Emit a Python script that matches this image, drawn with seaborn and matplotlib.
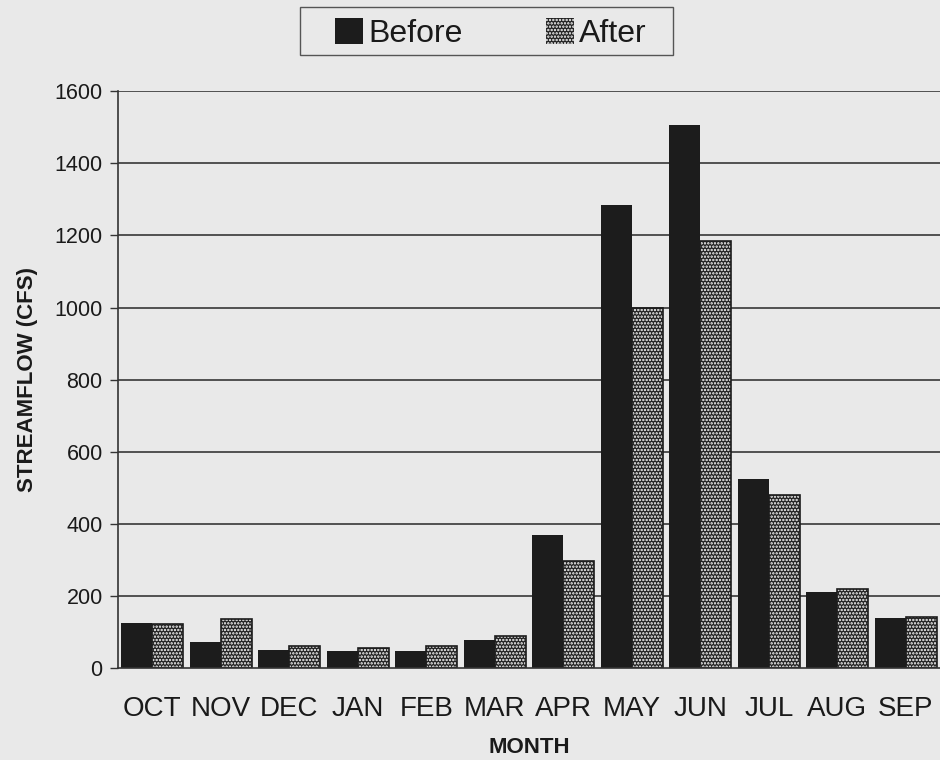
import matplotlib
matplotlib.use("Agg")
import matplotlib.pyplot as plt
import seaborn as sns
import pandas as pd
from matplotlib.patches import Patch, Rectangle

months = ["OCT", "NOV", "DEC", "JAN", "FEB", "MAR", "APR", "MAY", "JUN", "JUL", "AUG", "SEP"]
before = [126, 71, 50, 47, 48, 78, 370, 1283, 1505, 524, 212, 138]
after = [121, 135, 61, 56, 61, 88, 297, 1000, 1184, 479, 219, 142]
series = ["Before", "After"]
yticks = [0, 200, 400, 600, 800, 1000, 1200, 1400, 1600]

df = pd.DataFrame({
    "month": months * 2,
    "flow": before + after,
    "period": [series[0]] * len(months) + [series[1]] * len(months),
})

sns.set_theme(style="white")
plt.rcParams["font.family"] = ["Liberation Sans", "DejaVu Sans"]
plt.rcParams["hatch.color"] = "white"
plt.rcParams["hatch.linewidth"] = 1.15

BG = "#e9e9e9"
DARK = "#1c1c1c"
TXT = "#1a1a1a"

fig = plt.figure(figsize=(9.4, 7.6), dpi=100, facecolor=BG)
ax = fig.add_axes([0.1255, 0.121, 0.8745, 0.759])
ax.set_facecolor(BG)

sns.barplot(data=df, x="month", y="flow", hue="period", order=months,
            hue_order=series, palette=[DARK, "#222222"], saturation=1,
            width=0.9, ax=ax, legend=False, zorder=3)

for p in ax.containers[0]:
    p.set_edgecolor(DARK)
    p.set_linewidth(0)
for p in ax.containers[1]:
    p.set_hatch(".....")
    p.set_edgecolor("white")
    p.set_linewidth(0)
    # thin dark outline around the dotted bars
    ax.add_patch(Rectangle(p.get_xy(), p.get_width(), p.get_height(),
                           fill=False, edgecolor=DARK, lw=1.2, zorder=3.5))

ax.set_xlim(-0.5, 11.5)
ax.set_ylim(0, 1600)
ax.set_yticks(yticks)
ax.set_yticklabels([str(v) for v in yticks], fontsize=15.5, color=TXT)
ax.tick_params(axis="y", direction="out", length=6, width=1, color="#333333", pad=5, left=True)
ax.tick_params(axis="x", length=0, pad=20, labelsize=20, labelcolor=TXT)

for v in yticks[1:]:
    ax.axhline(v, color="#444444", lw=1.3, zorder=1)

for s in ["top", "right"]:
    ax.spines[s].set_visible(False)
ax.spines["left"].set_color("#333333")
ax.spines["left"].set_linewidth(1.2)
ax.spines["bottom"].set_color("#333333")
ax.spines["bottom"].set_linewidth(1.2)
ax.spines["bottom"].set_zorder(4)

ax.set_ylabel("STREAMFLOW (CFS)", fontsize=16, fontweight="bold", color=TXT, labelpad=12)
ax.set_xlabel("MONTH", fontsize=16, fontweight="bold", color=TXT, labelpad=11)

# legend
handles = [Patch(facecolor=DARK, edgecolor=DARK, lw=0),
           Patch(facecolor="#222222", edgecolor="white", hatch=".....", lw=0)]
leg = fig.legend(handles, series, loc="center", bbox_to_anchor=(0.522, 0.956),
                 ncol=2, frameon=False, fontsize=23, handlelength=0.9,
                 handleheight=0.9, handletextpad=0.15, columnspacing=2.6,
                 labelcolor=TXT)
fig.patches.append(Rectangle((300 / 940, 1 - 55 / 760), 373 / 940, 48 / 760,
                             transform=fig.transFigure, fill=False,
                             edgecolor="#555555", lw=1.0))

fig.savefig("out.png", dpi=100, facecolor=BG)
